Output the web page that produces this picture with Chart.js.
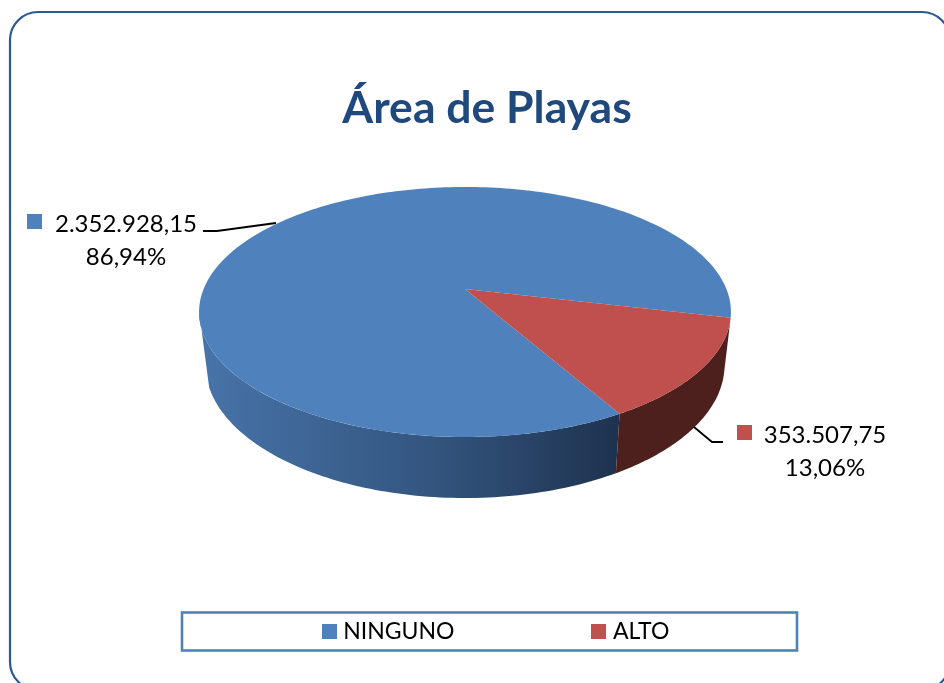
<!DOCTYPE html>
<html>
<head>
<meta charset="utf-8">
<style>html,body{margin:0;padding:0;background:#fff}canvas{display:block}</style>
<script src="https://cdn.jsdelivr.net/npm/chart.js@4"></script>
</head>
<body>
<canvas id="c" width="944" height="683"></canvas>
<script>
const categories = ['NINGUNO', 'ALTO'];
const areaValues = [2352928.15, 353507.75];
const valueLabels = ['2.352.928,15', '353.507,75'];
const percentLabels = ['86,94%', '13,06%'];
const sliceColors = ['#4F81BD', '#C0504D'];

const FONT = 'Lato';
// Perspective camera: unit disc -> screen (top face of the 3D pie)
const cam = {cx: 465, d: 261.4, a: 67.6, b: 289, c: -0.184};
const top3d = t => {
  const u = Math.cos(t), v = Math.sin(t), w = 1 + cam.c * v;
  return [cam.cx + cam.d * u / w, (cam.a * v + cam.b) / w];
};
// Bottom rim of the wall, derived from the top rim
const bottom3d = t => {
  const [x, y] = top3d(t);
  return [cam.cx + (x - cam.cx) * 0.976, 365 + (y - 312) * 1.064];
};
const rad = d => d * Math.PI / 180;

function swatch(color) {
  const s = document.createElement('canvas');
  s.width = 15; s.height = 15;
  const g = s.getContext('2d');
  g.fillStyle = color; g.fillRect(0, 0, 15, 15);
  return s;
}

const pie3d = {
  id: 'pie3d',
  afterLayout(chart) {
    const lg = chart.legend;
    lg.top = 620 - lg.options.labels.padding;
    lg.left = 26; lg.right = 970;
    chart.titleBlock.left += 15;
    chart.titleBlock.right += 15;
  },
  beforeDraw(chart) {
    const ctx = chart.ctx;
    ctx.save();
    ctx.fillStyle = '#fff';
    ctx.fillRect(0, 0, 944, 683);
    ctx.strokeStyle = '#2A5A94';
    ctx.lineWidth = 2.2;
    ctx.beginPath();
    ctx.roundRect(10, 12, 940, 678, 28);
    ctx.stroke();
    ctx.strokeStyle = '#4F81BD';
    ctx.lineWidth = 2.6;
    ctx.strokeRect(182, 612.5, 615, 38);
    ctx.restore();
  },
  beforeDatasetDraw(chart, args) {
    const ctx = chart.ctx;
    const arcs = chart.getDatasetMeta(args.index).data;
    ctx.save();
    // walls
    const grad = ctx.createLinearGradient(205, 0, 620, 0);
    grad.addColorStop(0, '#4773A8');
    grad.addColorStop(0.55, '#33557F');
    grad.addColorStop(1, '#1E324E');
    const wallFill = [grad, '#4D1F1D'];
    arcs.forEach((arc, i) => {
      let lo = arc.startAngle, hi = arc.endAngle;
      if (lo >= 2 * Math.PI) { lo -= 2 * Math.PI; hi -= 2 * Math.PI; }
      lo = Math.max(lo, rad(8));
      const hiTop = Math.min(hi, rad(170));
      const hiBottom = Math.min(hi, rad(160));
      if (hiTop <= lo) return;
      const n = 90;
      ctx.beginPath();
      for (let k = 0; k <= n; k++) {
        const p = top3d(lo + (hiTop - lo) * k / n);
        k ? ctx.lineTo(p[0], p[1]) : ctx.moveTo(p[0], p[1]);
      }
      for (let k = n; k >= 0; k--) {
        const p = bottom3d(lo + (hiBottom - lo) * k / n);
        ctx.lineTo(p[0], p[1]);
      }
      ctx.closePath();
      ctx.fillStyle = wallFill[i];
      ctx.fill();
    });
    // top faces
    arcs.forEach(arc => {
      const lo = arc.startAngle, hi = arc.endAngle, n = 240;
      ctx.beginPath();
      ctx.moveTo(cam.cx, cam.b);
      for (let k = 0; k <= n; k++) {
        const p = top3d(lo + (hi - lo) * k / n);
        ctx.lineTo(p[0], p[1]);
      }
      ctx.closePath();
      ctx.fillStyle = arc.options.backgroundColor;
      ctx.fill();
    });
    ctx.restore();
    return false;
  },
  afterDatasetsDraw(chart) {
    const ctx = chart.ctx;
    ctx.save();
    ctx.strokeStyle = '#000';
    ctx.lineWidth = 1.8;
    ctx.beginPath();
    ctx.moveTo(203, 231); ctx.lineTo(217, 231); ctx.lineTo(276, 223);
    ctx.moveTo(694, 427); ctx.lineTo(712, 442); ctx.lineTo(723, 442);
    ctx.stroke();
    const spots = [
      {box: [27, 214], vx: 126, vy: 232, py: 265},
      {box: [737, 425], vx: 825, vy: 443, py: 476}
    ];
    ctx.font = '24px ' + FONT;
    ctx.textAlign = 'center';
    ctx.textBaseline = 'alphabetic';
    spots.forEach((s, i) => {
      ctx.fillStyle = sliceColors[i];
      ctx.fillRect(s.box[0], s.box[1], 15, 15);
      ctx.fillStyle = '#000';
      ctx.fillText(valueLabels[i], s.vx, s.vy);
      ctx.fillText(percentLabels[i], s.vx, s.py);
    });
    ctx.restore();
  }
};

new Chart(document.getElementById('c'), {
  type: 'pie',
  data: {
    labels: categories,
    datasets: [{data: areaValues, backgroundColor: sliceColors, borderWidth: 0}]
  },
  options: {
    responsive: false,
    animation: false,
    rotation: 150.2,
    events: [],
    plugins: {
      title: {
        display: true,
        text: 'Área de Playas',
        color: '#1F497D',
        font: {family: FONT, size: 44.5, weight: 'bold'},
        padding: {top: 82, bottom: 0}
      },
      tooltip: {enabled: false},
      legend: {
        position: 'bottom',
        labels: {
          color: '#000',
          font: {family: FONT, size: 23},
          padding: 142,
          usePointStyle: true,
          pointStyleWidth: 5,
          generateLabels: () => categories.map((name, i) => ({
            text: name,
            pointStyle: swatch(sliceColors[i]),
            fillStyle: sliceColors[i],
            lineWidth: 0,
            hidden: false,
            index: i
          }))
        }
      }
    }
  },
  plugins: [pie3d]
});
</script>
</body>
</html>
